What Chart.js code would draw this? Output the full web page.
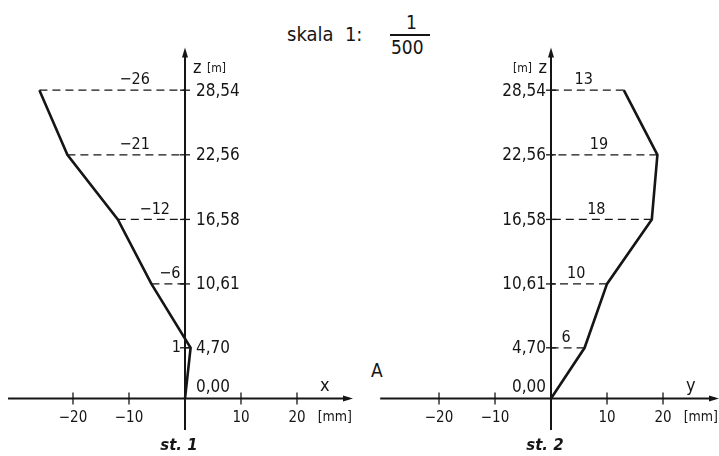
<!DOCTYPE html>
<html>
<head>
<meta charset="utf-8">
<script src="https://cdn.jsdelivr.net/npm/chart.js@4.4.1/dist/chart.umd.min.js"></script>
<style>
  body { margin: 0; background: #fff; width: 719px; height: 456px; overflow: hidden; position: relative;
         font-family: "DejaVu Sans Condensed", "DejaVu Sans", sans-serif; color: #151515; }
  canvas { position: absolute; top: 0; }
  #c1 { left: 0; }
  #c2 { left: 360px; }
  .t { position: absolute; white-space: nowrap; line-height: 1; }
</style>
</head>
<body>
<div class="t" style="left:287px;top:24px;font-size:20px;">skala&nbsp; 1:</div>
<div class="t" style="left:406px;top:13px;font-size:19px;">1</div>
<div style="position:absolute;left:390px;top:34px;width:40px;height:1.5px;background:#151515;"></div>
<div class="t" style="left:391px;top:38px;font-size:19px;">500</div>
<div class="t" style="left:371px;top:361px;font-size:19px;">A</div>
<canvas id="c1" width="360" height="456"></canvas>
<canvas id="c2" width="359" height="456"></canvas>
<script>
// heights of the levels [m]
const levels = [0, 4.70, 10.61, 16.58, 22.56, 28.54];
const levelLabels = ['0,00', '4,70', '10,61', '16,58', '22,56', '28,54'];
// displacements [mm]
const st1 = [0, 1, -6, -12, -21, -26];
const st2 = [0, 6, 10, 18, 19, 13];
const xTicks = [-20, -10, 10, 20];

const FONT = '"DejaVu Sans Condensed", "DejaVu Sans", sans-serif';
const INK = '#151515';

function fmt(v) {
  return v < 0 ? '\u2212' + Math.abs(v) : String(v);
}

const drawing = {
  id: 'drawing',
  beforeDatasetsDraw(chart, args, o) {
    const { ctx, scales: { x, y } } = chart;
    const x0 = x.getPixelForValue(0), y0 = y.getPixelForValue(0);
    ctx.save();
    ctx.strokeStyle = INK;
    ctx.fillStyle = INK;
    ctx.lineWidth = 2;

    // x axis with arrow
    const xl = x.getPixelForValue(o.xFrom), xr = x.getPixelForValue(o.xTo);
    ctx.beginPath(); ctx.moveTo(xl, y0); ctx.lineTo(xr - 4, y0); ctx.stroke();
    ctx.beginPath(); ctx.moveTo(xr, y0); ctx.lineTo(xr - 10, y0 - 3); ctx.lineTo(xr - 10, y0 + 3); ctx.closePath(); ctx.fill();

    // z axis with arrow
    const yt = y.getPixelForValue(32.5), yb = y.getPixelForValue(-2.9);
    ctx.beginPath(); ctx.moveTo(x0, yb); ctx.lineTo(x0, yt + 4); ctx.stroke();
    ctx.beginPath(); ctx.moveTo(x0, yt); ctx.lineTo(x0 - 3, yt + 10); ctx.lineTo(x0 + 3, yt + 10); ctx.closePath(); ctx.fill();

    // x ticks + labels
    ctx.lineWidth = 1.3;
    ctx.font = '15px ' + FONT;
    ctx.textAlign = 'center';
    ctx.textBaseline = 'middle';
    xTicks.forEach(v => {
      const p = x.getPixelForValue(v);
      ctx.beginPath(); ctx.moveTo(p, y0 - 6); ctx.lineTo(p, y0 + 6); ctx.stroke();
      ctx.fillText(fmt(v), p, y0 + 20);
    });

    // z ticks
    levels.slice(1).forEach(z => {
      const p = y.getPixelForValue(z);
      ctx.beginPath(); ctx.moveTo(x0 - 5, p); ctx.lineTo(x0 + 5, p); ctx.stroke();
    });
    ctx.restore();
  },
  afterDatasetsDraw(chart, args, o) {
    const { ctx, scales: { x, y } } = chart;
    const x0 = x.getPixelForValue(0), y0 = y.getPixelForValue(0);
    const right = o.side === 'right';
    ctx.save();
    ctx.fillStyle = INK;
    ctx.font = '17px ' + FONT;
    ctx.textBaseline = 'middle';

    // level labels next to the axis
    levels.forEach((z, i) => {
      const p = y.getPixelForValue(z);
      ctx.textAlign = right ? 'left' : 'right';
      const tx = right ? x0 + 11 : x0 - 5;
      if (i === 0) ctx.fillText(levelLabels[i], tx, y0 - 11);
      else ctx.fillText(levelLabels[i], tx, p + 1);
    });

    // displacement values above the dashed leaders
    ctx.font = '16px ' + FONT;
    o.values.forEach((v, i) => {
      if (i === 0) return;
      const p = y.getPixelForValue(levels[i]);
      if (Math.abs(v) < 3) {
        ctx.textAlign = right ? 'right' : 'left';
        ctx.fillText(fmt(v), right ? x0 - 4 : x0 + 4, p);
        return;
      }
      const cx = Math.max(-9, Math.min(9, v * 0.45));
      ctx.textAlign = 'center';
      ctx.fillText(fmt(v), x.getPixelForValue(cx), p - 10);
    });

    // axis names
    ctx.textBaseline = 'alphabetic';
    ctx.font = '18px ' + FONT;
    ctx.textAlign = 'left';
    const zt = 73;
    ctx.fillText(o.xName, x.getPixelForValue(o.xTo) - 33, y0 - 8);
    if (right) {
      ctx.fillText('z', x0 + 8, zt);
      ctx.font = '12px ' + FONT;
      ctx.fillText('[m]', x0 + 22, zt - 1);
    } else {
      ctx.textAlign = 'right';
      ctx.fillText('z', x0 - 4, zt);
      ctx.font = '12px ' + FONT;
      ctx.fillText('[m]', x0 - 19, zt - 1);
    }
    ctx.textBaseline = 'middle';
    ctx.font = '14px ' + FONT;
    ctx.textAlign = 'right';
    ctx.fillText('[mm]', x.getPixelForValue(o.xTo) - 1, y0 + 19);

    // station caption
    ctx.font = 'italic bold 15px "DejaVu Sans", sans-serif';
    ctx.textAlign = 'center';
    ctx.fillText(o.caption, x0 - 6, 446);
    ctx.restore();
  }
};

function makeChart(id, values, opts) {
  const profile = levels.map((z, i) => ({ x: values[i], y: z }));
  const leaders = levels.slice(1).map((z, i) => ({
    data: [{ x: values[i + 1], y: z }, { x: 0, y: z }],
    borderColor: INK,
    borderWidth: 1.2,
    borderDash: [8, 5],
    pointRadius: 0
  }));
  return new Chart(document.getElementById(id), {
    type: 'line',
    data: {
      datasets: [
        { data: profile, borderColor: INK, borderWidth: 2.6, pointRadius: 0, tension: 0 },
        ...leaders
      ]
    },
    options: {
      responsive: false,
      animation: false,
      events: [],
      layout: { padding: opts.padding },
      scales: {
        x: { type: 'linear', min: -30, max: 30, display: false },
        y: { type: 'linear', min: -3, max: 33, display: false }
      },
      plugins: {
        legend: { display: false },
        tooltip: { enabled: false },
        drawing: Object.assign({ values: values }, opts)
      }
    },
    plugins: [drawing]
  });
}

makeChart('c1', st1, {
  padding: { left: 17, right: 7, top: 42, bottom: 25 },
  side: 'right', xFrom: -31.6, xTo: 30, xName: 'x', caption: 'st. 1'
});
makeChart('c2', st2, {
  padding: { left: 23, right: 0, top: 42, bottom: 25 },
  side: 'left', xFrom: -30.5, xTo: 30, xName: 'y', caption: 'st. 2'
});
</script>
</body>
</html>
